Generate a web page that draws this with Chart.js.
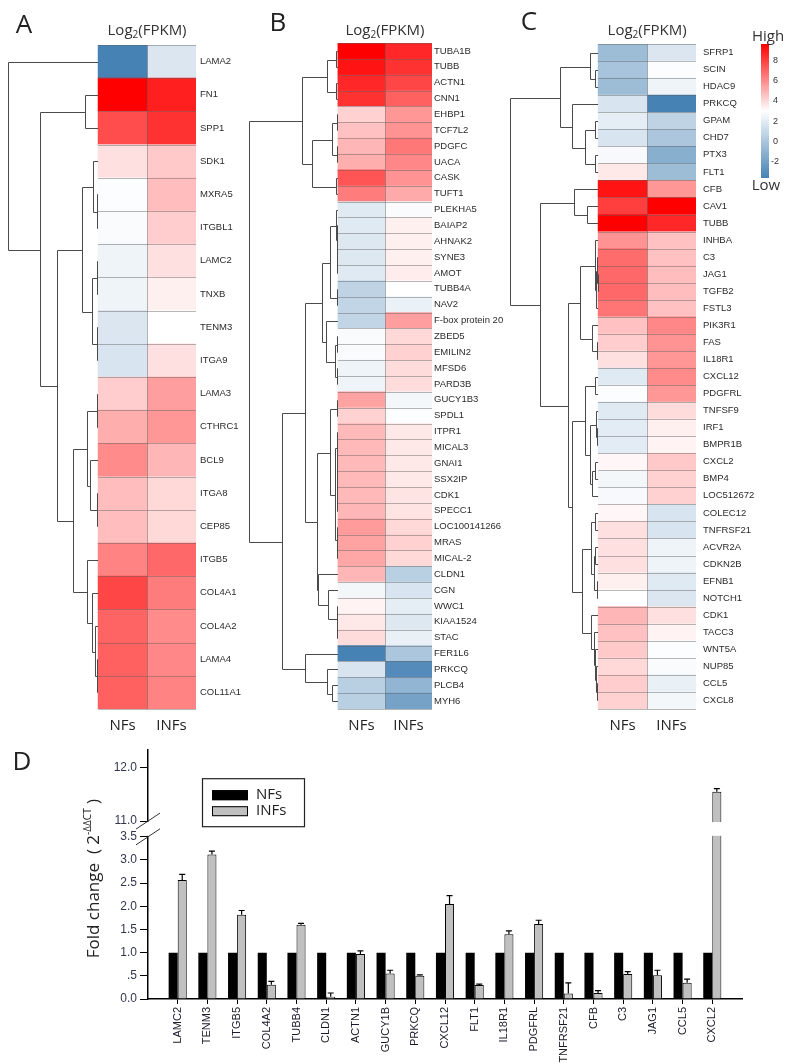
<!DOCTYPE html>
<html>
<head>
<meta charset="utf-8">
<script src="https://cdn.jsdelivr.net/npm/chart.js@4.4.1/dist/chart.umd.min.js"></script>
<style>
  html, body { margin: 0; padding: 0; background: #fff; }
  #page { position: relative; width: 787px; height: 1064px; overflow: hidden; }
  .panel { position: absolute; }
</style>
</head>
<body>
<div id="page">
  <div class="panel" style="left:0;top:0;width:250px;height:740px"><canvas id="heatA"></canvas></div>
  <div class="panel" style="left:240px;top:0;width:280px;height:740px"><canvas id="heatB"></canvas></div>
  <div class="panel" style="left:500px;top:0;width:287px;height:740px"><canvas id="heatC"></canvas></div>
  <div class="panel" style="left:0;top:740px;width:787px;height:324px"><canvas id="qpcr"></canvas></div>
</div>
<script>
// ---- heatmap data (log2 FPKM) ----
var columns = ['NFs', 'INFs'];

var genesA = ['LAMA2', 'FN1', 'SPP1', 'SDK1', 'MXRA5', 'ITGBL1', 'LAMC2', 'TNXB', 'TENM3', 'ITGA9',
  'LAMA3', 'CTHRC1', 'BCL9', 'ITGA8', 'CEP85', 'ITGB5', 'COL4A1', 'COL4A2', 'LAMA4', 'COL11A1'];
var nfA = [-3.6, 9.6, 7.6, 3.8, 2.9, 2.8, 2.4, 2.4, 1.7, 1.6, 4.3, 5.1, 6.0, 4.7, 4.7, 6.2, 7.8, 7.0, 7.1, 7.1];
var infA = [1.7, 8.8, 8.3, 4.4, 4.7, 4.3, 3.8, 3.4, 3.0, 3.8, 5.5, 5.7, 4.9, 4.0, 4.0, 6.9, 6.4, 6.0, 6.1, 6.2];

var genesB = ['TUBA1B', 'TUBB', 'ACTN1', 'CNN1', 'EHBP1', 'TCF7L2', 'PDGFC', 'UACA', 'CASK', 'TUFT1',
  'PLEKHA5', 'BAIAP2', 'AHNAK2', 'SYNE3', 'AMOT', 'TUBB4A', 'NAV2', 'F-box protein 20', 'ZBED5', 'EMILIN2',
  'MFSD6', 'PARD3B', 'GUCY1B3', 'SPDL1', 'ITPR1', 'MICAL3', 'GNAI1', 'SSX2IP', 'CDK1', 'SPECC1',
  'LOC100141266', 'MRAS', 'MICAL-2', 'CLDN1', 'CGN', 'WWC1', 'KIAA1524', 'STAC', 'FER1L6', 'PRKCQ',
  'PLCB4', 'MYH6'];
var nfB = [9.6, 9.1, 8.6, 8.3, 4.2, 4.6, 4.9, 5.1, 7.4, 6.4, 1.9, 1.9, 1.8, 1.8, 1.9, 0.7, 0.8, 0.8, 2.8, 2.8,
  2.4, 2.4, 5.4, 4.2, 4.8, 4.8, 4.8, 4.8, 4.8, 4.9, 5.6, 5.4, 5.3, 4.9, 2.6, 3.3, 3.6, 3.9, -3.6, 1.6, 0.5, 0.5];
var infB = [8.6, 8.3, 7.8, 7.1, 5.7, 5.8, 6.5, 6.1, 5.8, 5.2, 2.8, 3.4, 3.4, 3.4, 3.5, 3.0, 2.3, 5.5, 4.0, 4.2,
  3.9, 3.9, 2.6, 2.9, 3.6, 3.6, 3.6, 3.6, 3.7, 3.7, 4.0, 4.2, 4.0, 0.5, 1.6, 2.1, 1.8, 2.2, 0.0, -3.1, -0.9, -1.9];

var genesC = ['SFRP1', 'SCIN', 'HDAC9', 'PRKCQ', 'GPAM', 'CHD7', 'PTX3', 'FLT1', 'CFB', 'CAV1', 'TUBB',
  'INHBA', 'C3', 'JAG1', 'TGFB2', 'FSTL3', 'PIK3R1', 'FAS', 'IL18R1', 'CXCL12', 'PDGFRL', 'TNFSF9', 'IRF1',
  'BMPR1B', 'CXCL2', 'BMP4', 'LOC512672', 'COLEC12', 'TNFRSF21', 'ACVR2A', 'CDKN2B', 'EFNB1', 'NOTCH1',
  'CDK1', 'TACC3', 'WNT5A', 'NUP85', 'CCL5', 'CXCL8'];
var nfC = [-0.5, -0.1, -0.5, 1.6, 2.1, 1.6, 2.7, 3.6, 9.1, 8.0, 9.6, 5.8, 6.8, 6.9, 6.9, 6.6, 4.6, 4.3, 3.8,
  1.9, 2.9, 1.9, 2.0, 2.0, 3.2, 2.6, 2.7, 3.2, 3.8, 3.8, 3.8, 3.4, 3.0, 4.9, 4.6, 4.4, 4.0, 4.3, 4.2];
var infC = [1.7, 2.9, 2.4, -3.6, 0.7, 0.0, -1.2, -0.5, 5.7, 9.6, 8.6, 4.6, 4.6, 4.7, 4.7, 4.6, 6.1, 5.8, 5.7,
  6.0, 5.7, 3.9, 3.4, 3.3, 4.4, 4.2, 4.2, 1.6, 1.6, 2.4, 2.4, 1.9, 1.7, 3.8, 3.3, 2.9, 2.8, 2.2, 2.6];

// dendrograms: [mergeHeight, left, right], leaves are row indexes; heights in heatmap-column units
var treeA = [1.84, 0, [1.18, [0.27, 1, 2], [0.84,
  [0.33, [0.10, 3, [0.02, 4, 5]], [0.12, [0.02, 6, 7], [0.02, 8, 9]]],
  [0.51, [0.22, [0.02, 10, 11], [0.16, 12, [0.02, 13, 14]]], [0.22, 15, [0.12, 16, [0.06, 17, [0.02, 18, 19]]]]]]]];

var treeB = [1.89,
  [0.77, [0.23, [0.04, 0, 1], [0.04, 2, 3]], [0.55, [0.13, [0.02, 4, 5], [0.02, 6, 7]], [0.04, 8, 9]]],
  [1.19,
    [0.70,
      [0.34, [0.17, [0.05, 10, [0.03, 11, [0.02, 12, [0.01, 13, 14]]]], [0.02, 15, 16]],
             [0.26, 17, [0.06, [0.02, 18, 19], [0.02, 20, 21]]]],
      [0.45, [0.17, [0.02, 22, 23], [0.06, [0.03, 24, [0.025, 25, [0.02, 26, [0.015, 27, [0.01, 28, 29]]]]], [0.03, 30, [0.01, 31, 32]]]],
             [0.43, 33, [0.21, 34, [0.03, 35, [0.01, 36, 37]]]]]],
    [0.70, 38, [0.23, 39, [0.12, 40, 41]]]]];

var treeC = [1.80,
  [0.78, [0.16, 0, [0.06, 1, 2]], [0.53, 3, [0.27, [0.06, 4, 5], [0.06, 6, 7]]]],
  [1.18, [0.49, 8, [0.22, 9, 10]],
    [0.61,
      [0.37, [0.07, 11, [0.04, [0.02, 12, [0.01, 13, 14]], 15]], [0.12, 16, [0.03, 17, 18]]],
      [0.53,
        [0.27, [0.06, 19, 20], [0.16, [0.04, 21, [0.02, 22, 23]], [0.12, [0.06, 24, 25], 26]]],
        [0.33, [0.14, [0.06, 27, 28], [0.08, [0.06, 29, 30], [0.03, 31, 32]]],
               [0.14, 33, [0.09, 34, [0.07, 35, [0.05, 36, [0.03, 37, 38]]]]]]]]]];

// colour key
var keyMin = -3.6, keyMid = 3.0, keyMax = 9.6;
var keyTicks = [-2, 0, 2, 4, 6, 8];

// ---- qPCR data (panel D) ----
var qpcrGenes = ['LAMC2', 'TENM3', 'ITGB5', 'COL4A2', 'TUBB4', 'CLDN1', 'ACTN1', 'GUCY1B', 'PRKCQ', 'CXCL12',
  'FLT1', 'IL18R1', 'PDGFRL', 'TNFRSF21', 'CFB', 'C3', 'JAG1', 'CCL5', 'CXCL2'];
var foldNF = [1, 1, 1, 1, 1, 1, 1, 1, 1, 1, 1, 1, 1, 1, 1, 1, 1, 1, 1];
var foldINF = [2.57, 3.12, 1.82, 0.31, 1.60, 0.05, 0.97, 0.55, 0.50, 2.05, 0.30, 1.40, 1.62, 0.12, 0.13, 0.54, 0.51, 0.35, 11.55];
var errINF = [0.12, 0.07, 0.09, 0.07, 0.03, 0.08, 0.07, 0.07, 0.02, 0.18, 0.02, 0.07, 0.08, 0.23, 0.05, 0.05, 0.11, 0.08, 0.06];
var yTickValues = [0, 0.5, 1, 1.5, 2, 2.5, 3, 3.5, 11, 12];
var yTickText = ['0.0', '.5', '1.0', '1.5', '2.0', '2.5', '3.0', '3.5', '11.0', '12.0'];

var TITLE_FONT = "'Open Sans', 'DejaVu Sans', sans-serif";
var LABEL_FONT = "'Liberation Sans', Arial, sans-serif";

function heatColor(v) {
  if (v >= keyMid) {
    var f = Math.min(1, (v - keyMid) / (keyMax - keyMid));
    var c = Math.round(255 * (1 - f));
    return 'rgb(255,' + c + ',' + c + ')';
  }
  var g = Math.min(1, (keyMid - v) / (keyMid - keyMin));
  return 'rgb(' + Math.round(255 - 185 * g) + ',' + Math.round(255 - 125 * g) + ',' + Math.round(255 - 75 * g) + ')';
}

function drawTree(ctx, node, xs, ys) {
  if (typeof node === 'number') {
    return { x: xs.getPixelForValue(0), y: Math.round(ys.getPixelForValue(node)) + 0.5 };
  }
  var a = drawTree(ctx, node[1], xs, ys);
  var b = drawTree(ctx, node[2], xs, ys);
  var x = Math.round(xs.getPixelForValue(-node[0])) + 0.5;
  ctx.moveTo(a.x, a.y); ctx.lineTo(x, a.y);
  ctx.lineTo(x, b.y); ctx.lineTo(b.x, b.y);
  return { x: x, y: Math.round((a.y + b.y) / 2) + 0.5 };
}

function drawLog2Title(ctx, cx, cy) {
  ctx.save();
  ctx.fillStyle = '#333';
  ctx.textBaseline = 'alphabetic';
  ctx.textAlign = 'left';
  var big = '15px ' + TITLE_FONT, small = '10px ' + TITLE_FONT;
  ctx.font = big; var w1 = ctx.measureText('Log').width, w3 = ctx.measureText('(FPKM)').width;
  ctx.font = small; var w2 = ctx.measureText('2').width;
  var x = cx - (w1 + w2 + w3) / 2, base = cy + 5;
  ctx.font = big; ctx.fillText('Log', x, base);
  ctx.font = small; ctx.fillText('2', x + w1, base + 3);
  ctx.font = big; ctx.fillText('(FPKM)', x + w1 + w2, base);
  ctx.restore();
}

function makeHeatmap(id, genes, values, tree, cfg) {
  var heatPlugin = {
    id: 'heatExtras',
    afterDatasetsDraw: function (chart) {
      var ctx = chart.ctx, xs = chart.scales.x, ys = chart.scales.y;
      var x0 = xs.getPixelForValue(0), x1 = xs.getPixelForValue(1), x2 = xs.getPixelForValue(2);
      var step = ys.getPixelForValue(1) - ys.getPixelForValue(0);
      var top = ys.getPixelForValue(0) - step / 2;
      ctx.save();
      // cell separators
      ctx.strokeStyle = 'rgba(95,95,95,0.45)';
      ctx.lineWidth = 1;
      ctx.beginPath();
      for (var i = 0; i <= genes.length; i++) {
        var y = Math.round(top + i * step) + 0.5;
        ctx.moveTo(x0, y); ctx.lineTo(x2, y);
      }
      var xm = Math.round(x1) + 0.5;
      ctx.moveTo(xm, top); ctx.lineTo(xm, top + genes.length * step);
      ctx.stroke();
      // dendrogram
      ctx.strokeStyle = '#4a4a4a';
      ctx.beginPath();
      drawTree(ctx, tree, xs, ys);
      ctx.stroke();
      ctx.restore();
    },
    afterDraw: function (chart) {
      var ctx = chart.ctx, xs = chart.scales.x, area = chart.chartArea;
      ctx.save();
      ctx.fillStyle = '#222';
      ctx.textAlign = 'center';
      ctx.textBaseline = 'middle';
      ctx.font = '26px ' + TITLE_FONT;
      ctx.fillText(cfg.letter, cfg.letterX, cfg.letterY);
      drawLog2Title(ctx, xs.getPixelForValue(1), 30);
      ctx.font = '15px ' + TITLE_FONT;
      columns.forEach(function (c, k) {
        ctx.fillText(c, xs.getPixelForValue(k + 0.5), area.bottom + 17);
      });
      if (cfg.colorKey) {
        var kx = area.right + 65, kTop = area.top, kH = 134, kW = 8;
        for (var p = 0; p < kH; p++) {
          ctx.fillStyle = heatColor(keyMax - (p + 0.5) / kH * (keyMax - keyMin));
          ctx.fillRect(kx, kTop + p, kW, 1);
        }
        ctx.fillStyle = '#333';
        ctx.font = '9px ' + LABEL_FONT;
        ctx.textAlign = 'left';
        keyTicks.forEach(function (t) {
          ctx.fillText(String(t), kx + (t < 0 ? 10 : 12), kTop + (keyMax - t) / (keyMax - keyMin) * kH);
        });
        ctx.font = '15px ' + TITLE_FONT;
        ctx.textAlign = 'center';
        ctx.fillText('High', kx + 7, kTop - 7);
        ctx.fillText('Low', kx + 5, kTop + kH + 8);
      }
      ctx.restore();
    }
  };

  return new Chart(document.getElementById(id), {
    type: 'bar',
    data: {
      labels: genes,
      datasets: columns.map(function (c, k) {
        return {
          label: c,
          data: genes.map(function () { return [k, k + 1]; }),
          backgroundColor: values[k].map(heatColor),
          borderWidth: 0,
          barPercentage: 1,
          categoryPercentage: 1,
          grouped: false
        };
      })
    },
    options: {
      indexAxis: 'y',
      responsive: true,
      maintainAspectRatio: false,
      animation: false,
      layout: { padding: { left: cfg.left, top: cfg.top, bottom: 31, right: cfg.right } },
      plugins: { legend: { display: false }, tooltip: { enabled: false } },
      scales: {
        x: { type: 'linear', display: false, min: -tree[0], max: columns.length },
        y: {
          position: 'right',
          grid: { display: false, drawTicks: false },
          border: { display: false },
          ticks: { autoSkip: false, padding: cfg.pad, color: '#2b2b2b', font: { size: 9.5, family: LABEL_FONT } },
          afterFit: function (s) { s.width = cfg.axisWidth; }
        }
      }
    },
    plugins: [heatPlugin]
  });
}

makeHeatmap('heatA', genesA, [nfA, infA], treeA,
  { letter: 'A', letterX: 24, letterY: 26, left: 8, top: 45, right: 0, axisWidth: 54, pad: 4 });
makeHeatmap('heatB', genesB, [nfB, infB], treeB,
  { letter: 'B', letterX: 38, letterY: 24, left: 9, top: 43, right: 0, axisWidth: 88, pad: 2 });
makeHeatmap('heatC', genesC, [nfC, infC], treeC,
  { letter: 'C', letterX: 29, letterY: 23, left: 10, top: 44, right: 21, axisWidth: 70, pad: 7, colorKey: true });

// ---- panel D: broken y axis ----
var BREAK_LOW = 3.5, BREAK_HIGH = 11, BREAK_GAP = 0.34, UPPER_SCALE = 1.15;
function toAxis(v) {
  return v <= BREAK_LOW ? v : BREAK_LOW + BREAK_GAP + (v - BREAK_HIGH) * UPPER_SCALE;
}

var qpcrPlugin = {
  id: 'qpcrExtras',
  afterDatasetsDraw: function (chart) {
    var ctx = chart.ctx, ys = chart.scales.y, area = chart.chartArea;
    ctx.save();
    // error bars (upper side only)
    ctx.strokeStyle = '#000';
    ctx.lineWidth = 1.2;
    ctx.beginPath();
    chart.getDatasetMeta(1).data.forEach(function (bar, i) {
      var yt = ys.getPixelForValue(toAxis(foldINF[i] + errINF[i]));
      ctx.moveTo(bar.x, bar.y); ctx.lineTo(bar.x, yt);
      ctx.moveTo(bar.x - 3, yt); ctx.lineTo(bar.x + 3, yt);
    });
    ctx.stroke();
    // axis break
    var yHi = ys.getPixelForValue(toAxis(BREAK_HIGH));
    var yLo = ys.getPixelForValue(BREAK_LOW);
    ctx.fillStyle = '#fff';
    ctx.fillRect(area.left - 2, yHi + 1, area.right - area.left + 2, yLo - yHi - 2);
    ctx.lineWidth = 1;
    ctx.strokeStyle = '#333';
    ctx.beginPath();
    [yHi, yLo].forEach(function (y) {
      ctx.moveTo(area.left - 12, y + 8); ctx.lineTo(area.left + 12, y - 8);
    });
    ctx.stroke();
    ctx.restore();
  },
  afterDraw: function (chart) {
    var ctx = chart.ctx, area = chart.chartArea;
    ctx.save();
    ctx.fillStyle = '#222';
    ctx.textAlign = 'center';
    ctx.textBaseline = 'middle';
    ctx.font = '26px ' + TITLE_FONT;
    ctx.fillText('D', 22, 23);

    // legend box
    var lx = area.left + 54, ly = area.top + 28;
    ctx.strokeStyle = '#222';
    ctx.lineWidth = 1.2;
    ctx.strokeRect(lx + 0.5, ly + 0.5, 102, 48);
    ctx.font = '15px ' + TITLE_FONT;
    ctx.textAlign = 'left';
    chart.data.datasets.forEach(function (ds, k) {
      var sy = ly + 12 + k * 16;
      ctx.fillStyle = ds.backgroundColor;
      ctx.fillRect(lx + 10, sy, 36, 10);
      ctx.strokeStyle = '#000';
      ctx.lineWidth = 1;
      ctx.strokeRect(lx + 10.5, sy + 0.5, 35, 9);
      ctx.fillStyle = '#222';
      ctx.fillText(ds.label, lx + 54, sy + 5);
    });

    // y title with superscript
    var cy = (area.top + area.bottom) / 2 + 4;
    ctx.translate(99, cy);
    ctx.rotate(-Math.PI / 2);
    ctx.textBaseline = 'alphabetic';
    var big = '17px ' + TITLE_FONT, small = '10px ' + TITLE_FONT;
    var parts = [['Fold change  ( 2', big, 0], ['-\u0394\u0394CT', small, -8], [' )', big, 0]];
    var widths = parts.map(function (p) { ctx.font = p[1]; return ctx.measureText(p[0]).width; });
    var x = -widths.reduce(function (a, b) { return a + b; }, 0) / 2;
    ctx.fillStyle = '#222';
    parts.forEach(function (p, i) {
      ctx.font = p[1];
      ctx.fillText(p[0], x, p[2]);
      x += widths[i];
    });
    ctx.restore();
  }
};

new Chart(document.getElementById('qpcr'), {
  type: 'bar',
  data: {
    datasets: [
      {
        label: 'NFs',
        data: foldNF.map(function (v, i) { return { x: i, y: toAxis(v) }; }),
        backgroundColor: '#000000',
        borderWidth: 0,
        categoryPercentage: 0.61,
        barPercentage: 1
      },
      {
        label: 'INFs',
        data: foldINF.map(function (v, i) { return { x: i, y: toAxis(v) }; }),
        backgroundColor: '#c0c0c0',
        borderColor: '#000000',
        borderWidth: 1,
        categoryPercentage: 0.61,
        barPercentage: 1
      }
    ]
  },
  options: {
    responsive: true,
    maintainAspectRatio: false,
    animation: false,
    layout: { padding: { left: 0, top: 6, bottom: 0, right: 45 } },
    plugins: { legend: { display: false }, tooltip: { enabled: false } },
    scales: {
      x: {
        type: 'linear',
        min: -1,
        max: qpcrGenes.length,
        offset: false,
        afterBuildTicks: function (s) { s.ticks = qpcrGenes.map(function (g, i) { return { value: i }; }); },
        ticks: {
          autoSkip: false, minRotation: 90, maxRotation: 90, padding: 3,
          color: '#1a1a2a', font: { size: 11, family: LABEL_FONT },
          callback: function (v) { return qpcrGenes[v]; }
        },
        grid: { drawOnChartArea: false, tickLength: 5, color: '#000', offset: false },
        border: { color: '#000', width: 1.5 },
        afterFit: function (s) { s.height = 65; }
      },
      y: {
        min: 0,
        max: toAxis(12.33),
        afterBuildTicks: function (s) { s.ticks = yTickValues.map(function (v) { return { value: toAxis(v) }; }); },
        ticks: {
          padding: 3, color: '#33354f', font: { size: 12, family: LABEL_FONT },
          callback: function (v, i) { return yTickText[i]; }
        },
        grid: { drawOnChartArea: false, tickLength: 8, color: '#000' },
        border: { color: '#000', width: 1.5 },
        afterFit: function (s) { s.width = 148; }
      }
    }
  },
  plugins: [qpcrPlugin]
});
</script>
</body>
</html>
